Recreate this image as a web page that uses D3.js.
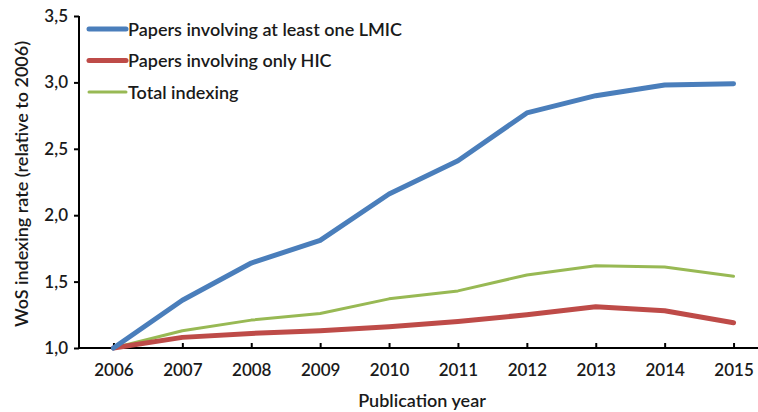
<!DOCTYPE html>
<html>
<head>
<meta charset="utf-8">
<script src="https://cdn.jsdelivr.net/npm/d3@7"></script>
<style>
  body { margin: 0; background: #fff; }
  svg text { font-family: Lato, "Open Sans", sans-serif; fill: #1a1a1a; }
</style>
</head>
<body>
<svg id="chart" width="758" height="412"></svg>
<script>
// data
var years = ["2006","2007","2008","2009","2010","2011","2012","2013","2014","2015"];
var lmic  = [1.00, 1.36, 1.64, 1.81, 2.16, 2.41, 2.77, 2.90, 2.98, 2.99];
var hic   = [1.00, 1.08, 1.11, 1.13, 1.16, 1.20, 1.25, 1.31, 1.28, 1.19];
var total = [1.00, 1.13, 1.21, 1.26, 1.37, 1.43, 1.55, 1.62, 1.61, 1.54];
var yTicks = [1.0, 1.5, 2.0, 2.5, 3.0, 3.5];
var seriesNames = ["Papers involving at least one LMIC", "Papers involving only HIC", "Total indexing"];

var series = [
  {name: seriesNames[0], values: lmic,  color: "#4a7ebb", width: 5},
  {name: seriesNames[1], values: hic,   color: "#be4b48", width: 5},
  {name: seriesNames[2], values: total, color: "#98b954", width: 3}
];

var svg = d3.select("#chart");
var plotL = 79, plotR = 768, plotT = 16, plotB = 348;

var x = d3.scalePoint().domain(years).range([plotL, plotR]).padding(0.5);
var y = d3.scaleLinear().domain([1.0, 3.5]).range([plotB, plotT]);
var fmt = function(d) { return d3.format(".1f")(d).replace(".", ","); };

// y axis
var gy = svg.append("g").attr("transform", "translate(" + plotL + ",0)")
  .call(d3.axisLeft(y).tickValues(yTicks).tickFormat(fmt).tickSize(5).tickPadding(6));
gy.select(".domain").attr("stroke", "#000").attr("stroke-width", 2)
  .attr("d", "M0," + plotT + "V" + plotB);
gy.selectAll(".tick line").attr("stroke", "#000").attr("stroke-width", 2);
gy.selectAll(".tick text").attr("font-size", 17).attr("font-weight", 600);

// x axis
var gx = svg.append("g").attr("transform", "translate(0," + plotB + ")")
  .call(d3.axisBottom(x).tickSizeInner(-5).tickSizeOuter(0).tickPadding(16));
gx.select(".domain").attr("stroke", "#000").attr("stroke-width", 2)
  .attr("d", "M" + (plotL - 1) + ",0H758");
gx.selectAll(".tick line").attr("stroke", "#000").attr("stroke-width", 2);
gx.selectAll(".tick text").attr("font-size", 17).attr("font-weight", 600);

// axis titles
svg.append("text").attr("x", 422).attr("y", 407).attr("text-anchor", "middle")
  .attr("font-size", 18).attr("font-weight", 600).text("Publication year");
svg.append("text").attr("transform", "translate(28,184) rotate(-90)")
  .attr("text-anchor", "middle").attr("font-size", 18).attr("font-weight", 600)
  .text("WoS indexing rate (relative to 2006)");

// lines
var line = d3.line()
  .x(function(d, i) { return x(years[i]); })
  .y(function(d) { return y(d); });

[series[2], series[1], series[0]].forEach(function(s) {
  svg.append("path").datum(s.values)
    .attr("d", line)
    .attr("fill", "none")
    .attr("stroke", s.color)
    .attr("stroke-width", s.width)
    .attr("stroke-linecap", "round")
    .attr("stroke-linejoin", "round");
});

// legend
var lg = svg.append("g");
series.forEach(function(s, i) {
  var ly = 29 + i * 31.5;
  lg.append("line").attr("x1", 89).attr("x2", 126).attr("y1", ly).attr("y2", ly)
    .attr("stroke", s.color).attr("stroke-width", s.width).attr("stroke-linecap", "round");
  lg.append("text").attr("x", 128).attr("y", ly + 6.5)
    .attr("font-size", 18).attr("font-weight", 600).text(s.name);
});
</script>
</body>
</html>
